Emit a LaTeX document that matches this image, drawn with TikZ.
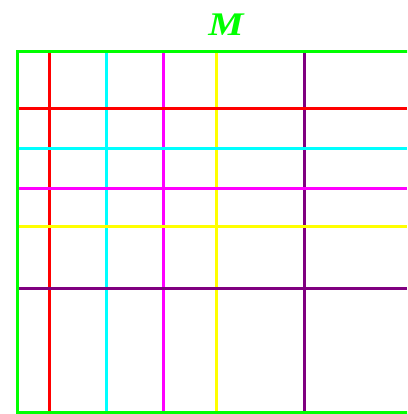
\documentclass[tikz,border=0pt]{standalone}
\usepackage{fontspec}
\setmainfont{Liberation Serif}
\definecolor{pgreen}{RGB}{0,255,0}
\definecolor{pred}{RGB}{255,0,0}
\definecolor{pcyan}{RGB}{0,255,255}
\definecolor{pmag}{RGB}{255,0,255}
\definecolor{pyel}{RGB}{255,255,0}
\definecolor{ppur}{RGB}{128,0,128}
\begin{document}
\begin{tikzpicture}[x=1pt,y=1pt,
  gridline/.style={line width=3pt},
  frame/.style={draw=pgreen,line width=3pt}]
\useasboundingbox (0,0) rectangle (407,414);
\clip (0,0) rectangle (407,414);
% frame
\draw[frame] (17,1.5) rectangle (420,362);
% vertical lines
\foreach \x/\c in {49/pred,106/pcyan,163/pmag,216/pyel,304/ppur}
  \draw[gridline,draw=\c] (\x,360.5) -- (\x,3);
% horizontal lines
\foreach \y/\c in {109/pred,149/pcyan,189/pmag,227/pyel,289/ppur}
  \draw[gridline,draw=\c] (19,414-\y) -- (407,414-\y);
% label
\node[text=pgreen,inner sep=0pt] (label) at (226,389)
  {\fontsize{33}{33}\selectfont\scalebox{1.2}[1]{\bfseries\itshape M}};
\end{tikzpicture}
\end{document}
